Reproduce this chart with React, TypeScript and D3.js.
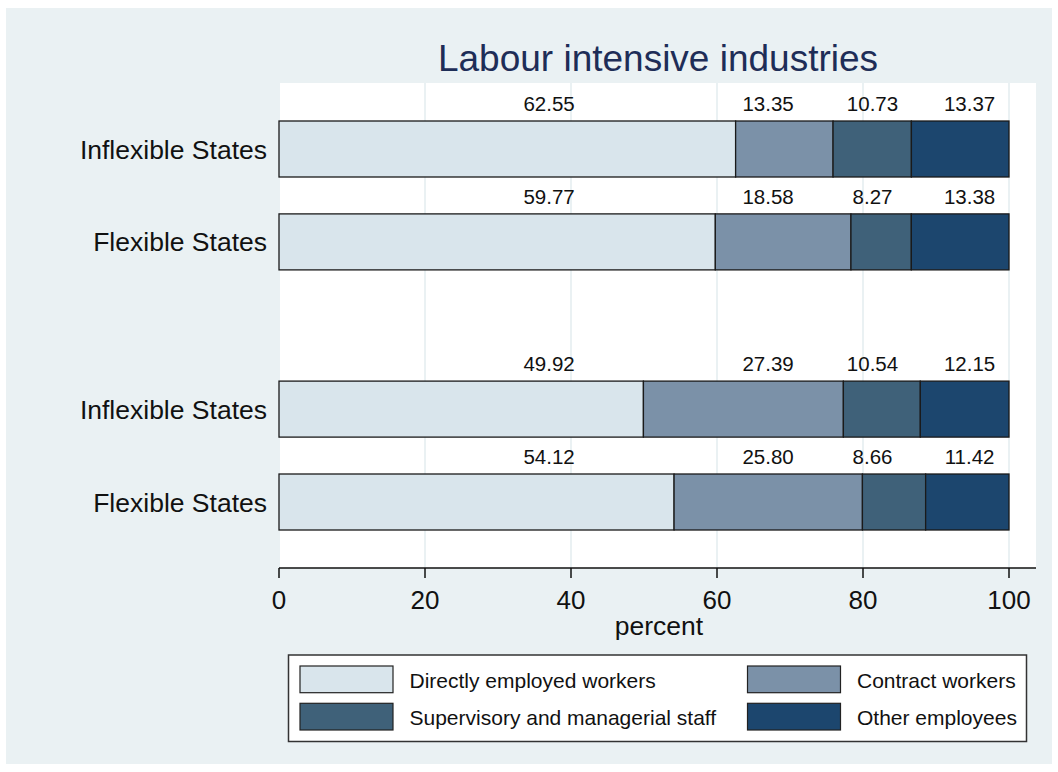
import React from "react";
import * as d3 from "d3";

const title = "Labour intensive industries";
const categories = ["Inflexible States", "Flexible States", "Inflexible States", "Flexible States"];
const groups = [0, 0, 1, 1];
const seriesNames = [
  "Directly employed workers",
  "Contract workers",
  "Supervisory and managerial staff",
  "Other employees",
];
const directly = [62.55, 59.77, 49.92, 54.12];
const contract = [13.35, 18.58, 27.39, 25.8];
const supervisory = [10.73, 8.27, 10.54, 8.66];
const other = [13.37, 13.38, 12.15, 11.42];
// label anchor positions along the percent axis
const labelAnchors = [37, 67, 81.3, 94.6];
const xTicks = [0, 20, 40, 60, 80, 100];
const xLabel = "percent";

const colors = ["#d9e5ec", "#7b91a8", "#3f6179", "#1c466e"];

const W = 1058;
const H = 772;

export default function App() {
  const series = [directly, contract, supervisory, other];
  const font = "Liberation Sans, Arial, Helvetica, sans-serif";

  const plot = { left: 280, right: 1036, top: 83, bottom: 568 };
  const x = d3.scaleLinear().domain([0, 100]).range([279, 1009]);

  // slot positions: bars within a group are one slot apart, groups separated by an extra gap
  const slot = categories.map((_, i) => i + groups[i] * 0.8);
  const y = d3.scaleLinear().domain([0, 3.8]).range([149, 502]);
  const barH = 56;

  const stackData = categories.map((_, i) => {
    const row: { [k: string]: number } = {};
    seriesNames.forEach((s, j) => (row[s] = series[j][i]));
    return row;
  });
  const stacked = d3.stack<{ [k: string]: number }>().keys(seriesNames)(stackData);

  const legendItems = [
    { name: seriesNames[0], c: colors[0], col: 0, row: 0 },
    { name: seriesNames[1], c: colors[1], col: 1, row: 0 },
    { name: seriesNames[2], c: colors[2], col: 0, row: 1 },
    { name: seriesNames[3], c: colors[3], col: 1, row: 1 },
  ];
  const legendColX = [300, 747.5];

  return (
    <svg
      width={W}
      height={H}
      style={{ position: "absolute", left: 0, top: 0, fontFamily: font }}
    >
      <rect x={0} y={0} width={W} height={H} fill="#ffffff" />
      <rect x={6} y={8} width={1046} height={756} fill="#eaf1f3" />
      {/* plot region */}
      <rect x={plot.left} y={plot.top} width={plot.right - plot.left} height={plot.bottom - plot.top} fill="#ffffff" />
      {/* gridlines */}
      {xTicks.map((t) => (
        <line key={"g" + t} x1={x(t)} x2={x(t)} y1={plot.top} y2={plot.bottom} stroke="#eaf1f3" strokeWidth={2} />
      ))}
      {/* title */}
      <text x={(plot.left + plot.right) / 2} y={70.5} textAnchor="middle" fontSize={37} fill="#1e2d57">
        {title}
      </text>
      {/* bars */}
      {stacked.map((layer, j) =>
        layer.map((d, i) => (
          <rect
            key={`b${j}-${i}`}
            x={x(d[0])}
            y={y(slot[i]) - barH / 2}
            width={x(d[1]) - x(d[0])}
            height={barH}
            fill={colors[j]}
            stroke="#1a1a1a"
            strokeWidth={1.3}
          />
        ))
      )}
      {/* value labels */}
      {series.map((vals, j) =>
        vals.map((v, i) => (
          <text
            key={`l${j}-${i}`}
            x={x(labelAnchors[j])}
            y={y(slot[i]) - barH / 2 - 10}
            textAnchor="middle"
            fontSize={20.5}
            fill="#111"
          >
            {v.toFixed(2)}
          </text>
        ))
      )}
      {/* category labels */}
      {categories.map((c, i) => (
        <text key={"c" + i} x={267} y={y(slot[i]) + 9.5} textAnchor="end" fontSize={26.5} fill="#111">
          {c}
        </text>
      ))}
      {/* x axis */}
      <line x1={279} x2={plot.right} y1={plot.bottom} y2={plot.bottom} stroke="#111" strokeWidth={1.5} />
      {xTicks.map((t) => (
        <g key={"t" + t}>
          <line x1={x(t)} x2={x(t)} y1={plot.bottom} y2={plot.bottom + 10} stroke="#111" strokeWidth={1.5} />
          <text x={x(t)} y={609} textAnchor="middle" fontSize={26} fill="#111">
            {t}
          </text>
        </g>
      ))}
      <text x={659} y={635} textAnchor="middle" fontSize={26.5} fill="#111">
        {xLabel}
      </text>
      {/* legend */}
      <rect x={288.5} y={655} width={738} height={86.5} fill="#ffffff" stroke="#333" strokeWidth={1.5} />
      {legendItems.map((it) => {
        const sy = it.row === 0 ? 666 : 703.3;
        const sx = legendColX[it.col];
        return (
          <g key={it.name}>
            <rect x={sx} y={sy} width={93} height={26.7} fill={it.c} stroke="#222" strokeWidth={1.2} />
            <text x={sx + 109.5} y={sy + 21.5} fontSize={21} fill="#111">
              {it.name}
            </text>
          </g>
        );
      })}
    </svg>
  );
}
